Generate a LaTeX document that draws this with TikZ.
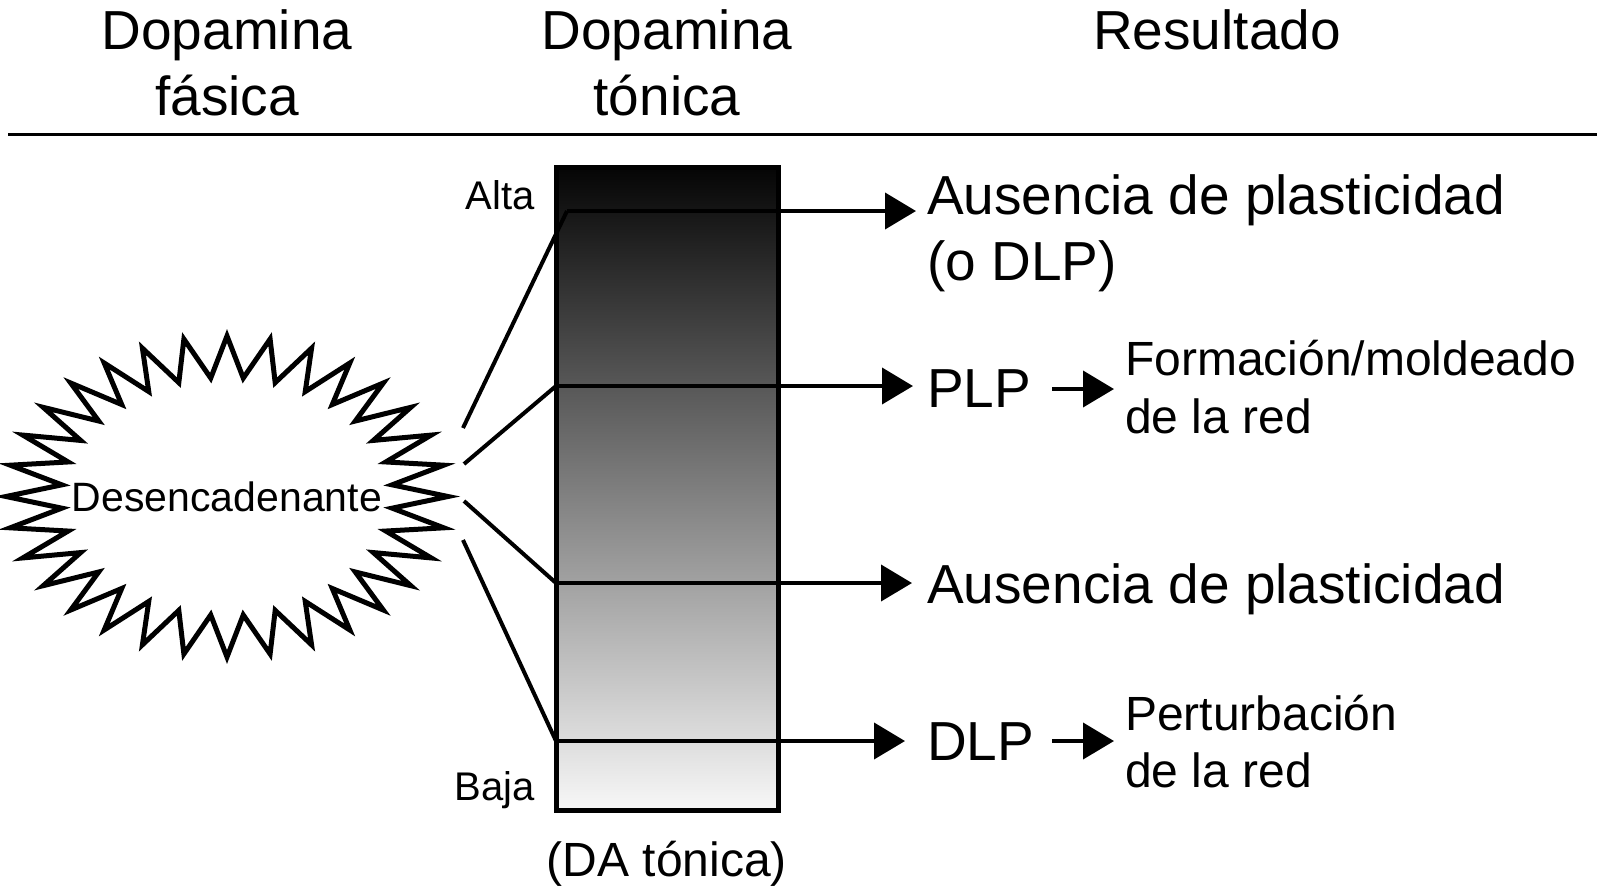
\documentclass[tikz,border=0pt]{standalone}
\usepackage{fontspec}
\setmainfont{Liberation Sans}
\usetikzlibrary{arrows.meta}
\begin{document}
\begin{tikzpicture}[x=1pt,y=-1pt,
  hdr/.style={font=\fontsize{55}{66}\selectfont, inner sep=0, anchor=base},
  big/.style={font=\fontsize{55}{66}\selectfont, inner sep=0, anchor=base west},
  mid/.style={font=\fontsize{48}{58}\selectfont, inner sep=0, anchor=base west},
  lbl/.style={font=\fontsize{40}{48}\selectfont, inner sep=0, anchor=base east},
  conn/.style={line width=4pt, line join=miter},
  arr/.style={line width=4pt, -{Triangle[length=31pt,width=36pt]}},
  burst/.style={line width=5pt, line join=miter},
  bar/.style={draw, line width=5pt, top color=black!98, bottom color=black!3,
    minimum width=222.5pt, minimum height=642.5pt, inner sep=0},
]
\useasboundingbox (0,0) rectangle (1597,889);

% headers
\node[hdr] (h1a) at (227,49) {Dopamina};
\node[hdr] (h1b) at (227,115) {fásica};
\node[hdr] (h2a) at (667,49) {Dopamina};
\node[hdr] (h2b) at (667,115) {tónica};
\node[hdr] (h3) at (1217,49) {Resultado};
\draw[line width=3.5pt] (8,134.5) -- (1597,134.5);

% starburst
\begin{scope}[shift={(227,496.5)}]
\draw[burst] (0:221 and 160.5)
  \foreach \i in {0,...,31} {
    -- ({\i*11.25+5.625}:166 and 119) -- ({(\i+1)*11.25}:221 and 160.5)
  } -- cycle;
\end{scope}
\node[font=\fontsize{41}{50}\selectfont, inner sep=0, anchor=base] (trig) at (227,511) {Desencadenante};

% bar
\node[bar] (bar) at (667.25,488.75) {};
\node[lbl] (alta) at (535,209) {Alta};
\node[lbl] (baja) at (535,800) {Baja};
\node[font=\fontsize{48}{58}\selectfont, inner sep=0, anchor=base] (da) at (667,876) {(DA tónica)};

% connector coordinates
\coordinate (s1) at (463,428); \coordinate (k1) at (567,211); \coordinate (t1) at (916,211);
\coordinate (s2) at (464,464); \coordinate (k2) at (556,386); \coordinate (t2) at (913,386);
\coordinate (s3) at (464,501); \coordinate (k3) at (556,583); \coordinate (t3) at (912,583);
\coordinate (s4) at (463,540); \coordinate (k4) at (556,741); \coordinate (t4) at (905,741);

\draw[conn] (s1) -- (k1);
\draw[arr] (k1) -- (t1);
\draw[conn] (s2) -- (k2);
\draw[arr] (k2) -- (t2);
\draw[conn] (s3) -- (k3);
\draw[arr] (k3) -- (t3);
\draw[conn] (s4) -- (k4);
\draw[arr] (k4) -- (t4);

% results
\node[big] (r1a) at (927,214) {Ausencia de plasticidad};
\node[big] (r1b) at (927,280) {(o DLP)};
\node[big] (r2) at (927,407) {PLP};
\node[big] (r3) at (927,603) {Ausencia de plasticidad};
\node[big] (r4) at (927,760) {DLP};
\node[mid] (f1) at (1125,375) {Formación/moldeado};
\node[mid] (f2) at (1125,433) {de la red};
\node[mid] (p1) at (1125,730) {Perturbación};
\node[mid] (p2) at (1125,787) {de la red};

\coordinate (a2s) at (1052,389); \coordinate (a2e) at (1114,389);
\coordinate (a4s) at (1052,741); \coordinate (a4e) at (1114,741);
\draw[arr] (a2s) -- (a2e);
\draw[arr] (a4s) -- (a4e);
\end{tikzpicture}
\end{document}
